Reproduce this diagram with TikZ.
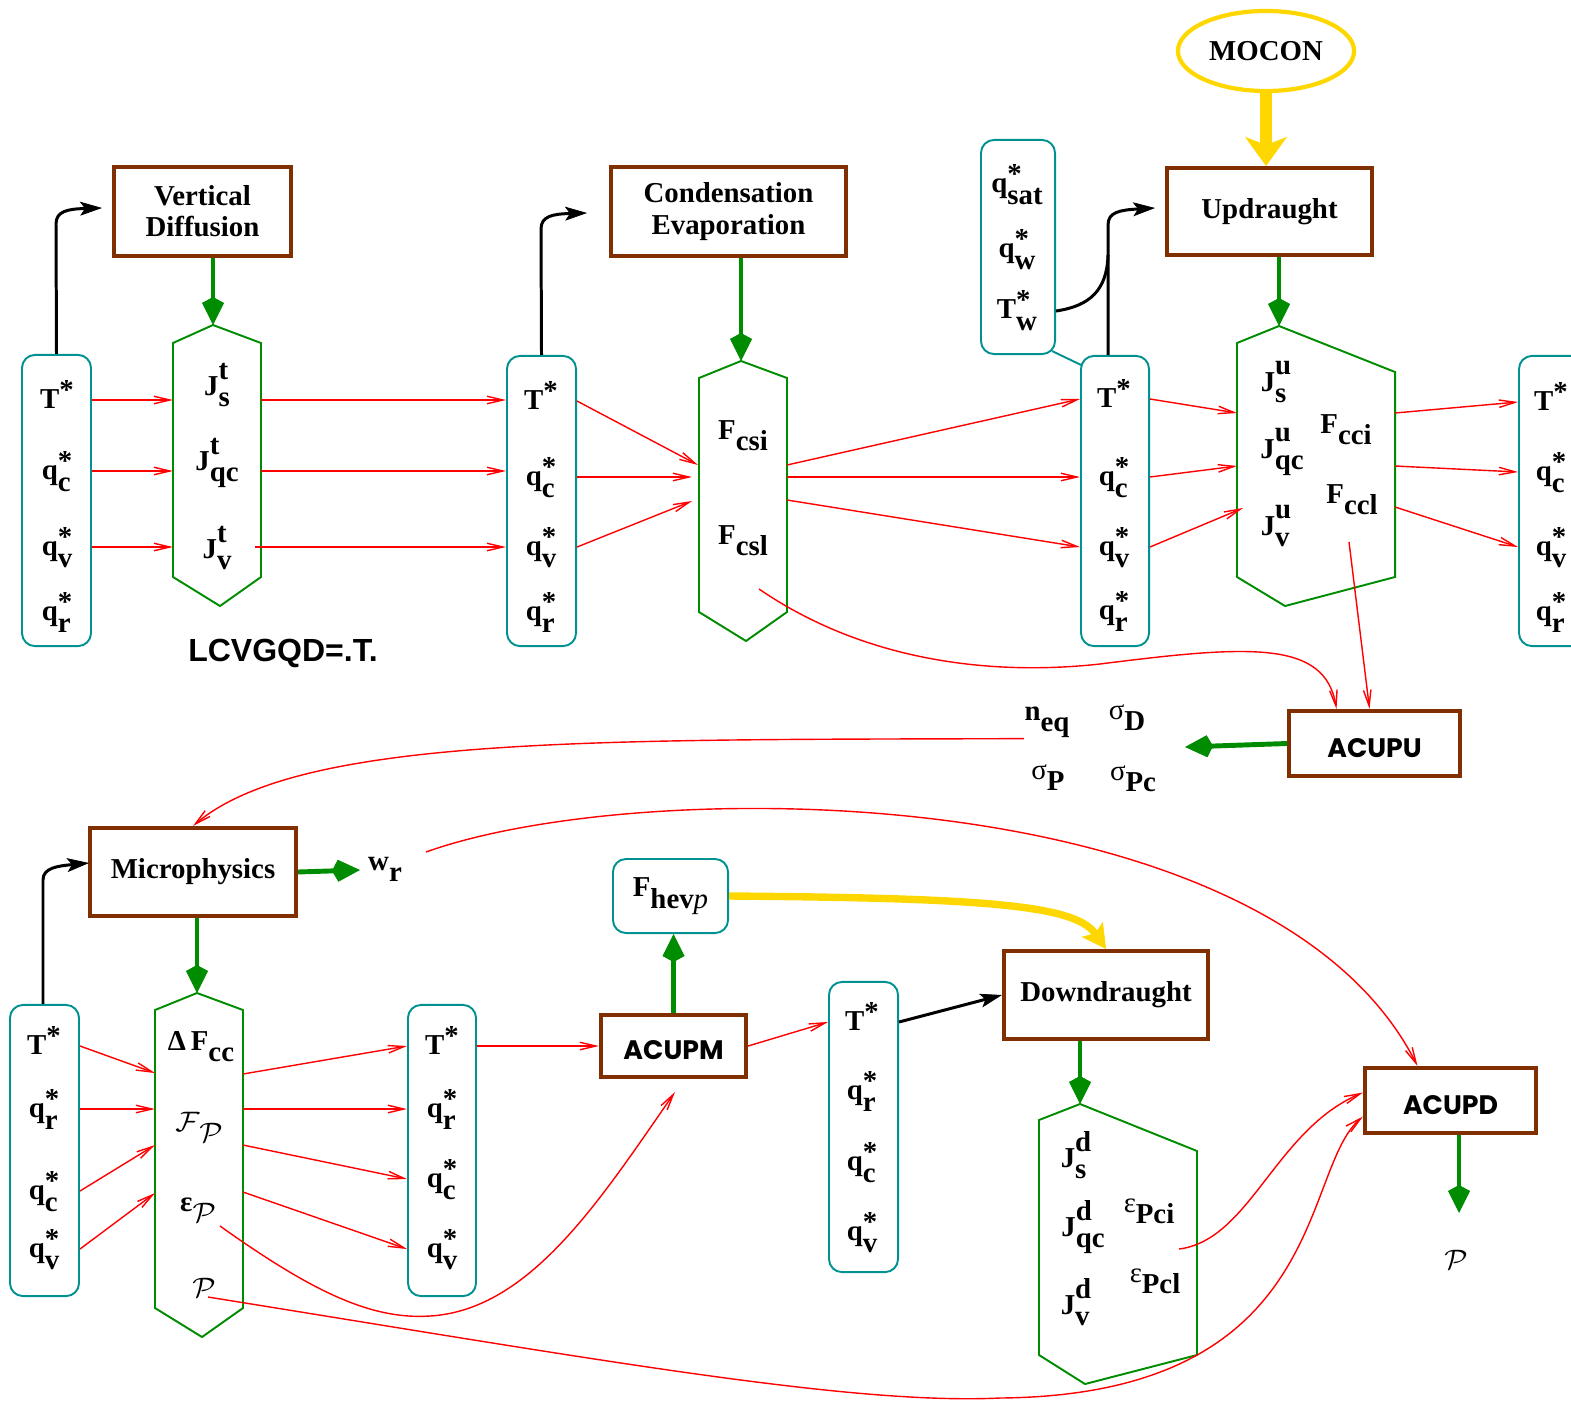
\documentclass[tikz,border=0pt]{standalone}
\usepackage{fontspec}
\setmainfont{Liberation Serif}
\newfontfamily\acufont{Poppins}
\newfontfamily\lcvfont{Liberation Sans}
\usepackage{tikz}
\usetikzlibrary{arrows.meta,shapes.geometric}

\definecolor{boxbrown}{RGB}{128,48,0}
\definecolor{varteal}{RGB}{0,145,145}
\definecolor{fluxgreen}{RGB}{0,140,0}
\definecolor{mocongold}{RGB}{255,215,0}

% symbol with a superscript and a subscript of the same size
\newcommand{\fieldsym}[3]{#1{\ooalign{\raisebox{0.3em}{#2}\cr\raisebox{-0.42em}{#3}\cr}}}
\newcommand{\fluxsym}[3]{#1{\ooalign{\raisebox{0.58em}{#2}\cr\raisebox{-0.38em}{#3}\cr}}}

\begin{document}
\begin{tikzpicture}[x=0.01cm,y=-0.01cm,
	font=\fontsize{8.2}{8.9}\selectfont\bfseries,
	proc/.style={draw=boxbrown, line width=1.15pt, rectangle, inner sep=0pt, align=center},
	acu/.style={proc, text height=0.27cm, text depth=0cm, font=\acufont\fontsize{7.6}{9}\selectfont\bfseries},
	var/.style={draw=varteal, line width=0.55pt, rounded corners=0.13cm, inner sep=0pt},
	lab/.style={inner sep=0pt, text height=0.2cm, text depth=0.04cm},
	sym/.style={inner sep=0pt},
	hexa/.style={draw=fluxgreen, line width=0.55pt},
	flow/.style={red, line width=0.4pt, -{Straight Barb[length=0.16cm,width=0.075cm]}},
	feed/.style={black, line width=0.85pt, -{Stealth[length=0.22cm,width=0.14cm,inset=0.05cm,line width=0.2pt]}},
	gflow/.style={fluxgreen, line width=1.4pt, -{Kite[length=0.28cm,width=0.22cm,inset=0.06cm,line width=0.2pt]}}]
	\useasboundingbox (0,0) rectangle (1571,1400);

	% Hexagon points
	\coordinate (h1t) at (213,325); \coordinate (h1ur) at (261,343); \coordinate (h1lr) at (261,577);
	\coordinate (h1b) at (220,606); \coordinate (h1ll) at (173,577); \coordinate (h1ul) at (173,343);
	\coordinate (h2t) at (741,361); \coordinate (h2ur) at (787,378); \coordinate (h2lr) at (787,612);
	\coordinate (h2b) at (746,641); \coordinate (h2ll) at (699,612); \coordinate (h2ul) at (699,378);
	\coordinate (h3t) at (1279,326); \coordinate (h3ur) at (1395,372); \coordinate (h3lr) at (1395,577);
	\coordinate (h3b) at (1285,606); \coordinate (h3ll) at (1237,577); \coordinate (h3ul) at (1237,343);
	\coordinate (h4t) at (197,993); \coordinate (h4ur) at (243,1010); \coordinate (h4lr) at (243,1308);
	\coordinate (h4b) at (202,1337); \coordinate (h4ll) at (155,1308); \coordinate (h4ul) at (155,1010);
	\coordinate (h5t) at (1080,1104); \coordinate (h5ur) at (1197,1151); \coordinate (h5lr) at (1197,1355);
	\coordinate (h5b) at (1085,1384); \coordinate (h5ll) at (1039,1355); \coordinate (h5ul) at (1039,1120);

	% Ports
	\coordinate (h1w1) at (173,400); \coordinate (h1w2) at (173,471); \coordinate (h1w3) at (173,547);
	\coordinate (h1e1) at (261,400); \coordinate (h1e2) at (261,471); \coordinate (h1e3) at (255,547);
	\coordinate (h2w1) at (698,465); \coordinate (h2w2) at (692,477); \coordinate (h2w3) at (692,501);
	\coordinate (h2e1) at (787,465); \coordinate (h2e2) at (787,477); \coordinate (h2e3) at (787,500);
	\coordinate (h2s) at (759,589);
	\coordinate (h3w1) at (1237,413); \coordinate (h3w2) at (1237,466); \coordinate (h3w3) at (1243,508);
	\coordinate (h3e1) at (1395,413); \coordinate (h3e2) at (1395,466); \coordinate (h3e3) at (1395,507);
	\coordinate (h3s) at (1349,542);
	\coordinate (h4w1) at (155,1073); \coordinate (h4w2) at (155,1109); \coordinate (h4w3) at (155,1145); \coordinate (h4w4) at (155,1193);
	\coordinate (h4e1) at (243,1074); \coordinate (h4e2) at (243,1109); \coordinate (h4e3) at (243,1145); \coordinate (h4e4) at (243,1192);
	\coordinate (h4eps) at (220,1226);
	\coordinate (h4p) at (208,1297);
	\coordinate (h5eps) at (1179,1249);
	\coordinate (vdin) at (102,208);
	\coordinate (cein) at (587,213);
	\coordinate (upin) at (1155,208);
	\coordinate (micin) at (89,863);
	\coordinate (sigtip) at (1185,747);
	\coordinate (wrtip) at (360,870);
	\coordinate (wrout) at (426,852);
	\coordinate (acupmin) at (675,1092);
	\coordinate (ptip) at (1459,1213);

	% Boxes
	\node[proc, minimum width=1.77cm, minimum height=0.89cm] (vd) at (202.5,211.5) {Vertical\\Diffusion};
	\node[proc, minimum width=2.35cm, minimum height=0.89cm] (ce) at (728.5,211.5) {Condensation\\Evaporation};
	\node[proc, minimum width=2.05cm, minimum height=0.87cm] (up) at (1269.5,211.5) {Updraught};
	\node[acu, minimum width=1.71cm, minimum height=0.65cm] (acupu) at (1374.5,743.5) {ACUPU};
	\node[proc, minimum width=2.06cm, minimum height=0.88cm] (mic) at (193,872) {Microphysics};
	\node[acu, minimum width=1.45cm, minimum height=0.62cm] (acupm) at (673.5,1046) {ACUPM};
	\node[proc, minimum width=2.04cm, minimum height=0.88cm] (dd) at (1106,995) {Downdraught};
	\node[acu, minimum width=1.71cm, minimum height=0.65cm] (acupd) at (1450.5,1100.5) {ACUPD};
	\node[draw=mocongold, line width=1.2pt, ellipse, inner sep=0pt, minimum width=1.76cm, minimum height=0.8cm] (mocon) at (1266,51) {MOCON};

	\node[var, minimum width=0.69cm, minimum height=2.91cm] (b1) at (56.5,500.5) {};
	\node[var, minimum width=0.69cm, minimum height=2.90cm] (b2) at (541.5,501) {};
	\node[var, minimum width=0.68cm, minimum height=2.90cm] (b3) at (1115,501) {};
	\node[var, minimum width=0.68cm, minimum height=2.90cm] (b4) at (1553,501) {};
	\node[var, minimum width=0.74cm, minimum height=2.14cm] (bs) at (1018,247) {};
	\node[var, minimum width=0.69cm, minimum height=2.91cm] (b5) at (44.5,1150.5) {};
	\node[var, minimum width=0.68cm, minimum height=2.91cm] (b6) at (442,1150.5) {};
	\node[var, minimum width=0.69cm, minimum height=2.90cm] (b7) at (863.5,1127) {};
	\node[var, minimum width=1.15cm, minimum height=0.74cm] (bf) at (670.5,896) {\fieldsym{F}{}{hev{\mdseries\itshape p}}};

	% Hexagons
	\foreach \h in {h1,h2,h3,h4,h5}
		\draw[hexa] (\h t) -- (\h ur) -- (\h lr) -- (\h b) -- (\h ll) -- (\h ul) -- cycle;

	% Column entries
	\foreach \col/\x/\ya/\yb/\yc/\yd in {b1/57/400/471/547/612, b2/541/401/477/547/612, b3/1114/399/477/547/611, b4/1551/402/472/547/612} {
		\node[lab] (\col T) at (\x,\ya) {\fieldsym{T}{*}{}};
		\node[lab] (\col c) at (\x,\yb) {\fieldsym{q}{*}{c}};
		\node[lab] (\col v) at (\x,\yc) {\fieldsym{q}{*}{v}};
		\node[lab] (\col r) at (\x,\yd) {\fieldsym{q}{*}{r}};
	}
	\foreach \col/\x/\ya/\yb/\yc/\yd in {b5/44/1046/1109/1191/1249, b6/442/1046/1109/1179/1249, b7/862/1022/1091/1162/1232} {
		\node[lab] (\col T) at (\x,\ya) {\fieldsym{T}{*}{}};
		\node[lab] (\col r) at (\x,\yb) {\fieldsym{q}{*}{r}};
		\node[lab] (\col c) at (\x,\yc) {\fieldsym{q}{*}{c}};
		\node[lab] (\col v) at (\x,\yd) {\fieldsym{q}{*}{v}};
	}
	\node[sym] (bsat) at (1017,185) {\fieldsym{q}{*}{sat}};
	\node[sym] (bsw) at (1017,250) {\fieldsym{q}{*}{w}};
	\node[sym] (bsTw) at (1017,311) {\fieldsym{T}{*}{w}};

	% Hexagon entries
	\node[sym] (jts) at (217,385) {\fluxsym{J}{t}{s}};
	\node[sym] (jtqc) at (217,463) {\fluxsym{J}{t}{qc}};
	\node[sym] (jtv) at (217,548) {\fluxsym{J}{t}{v}};
	\node[sym] (fcsi) at (743,436) {\fluxsym{F}{}{csi}};
	\node[sym] (fcsl) at (743,541) {\fluxsym{F}{}{csl}};
	\node[sym] (jus) at (1276,382) {\fluxsym{J}{u}{s}};
	\node[sym] (juqc) at (1282,452) {\fluxsym{J}{u}{qc}};
	\node[sym] (juv) at (1276,526) {\fluxsym{J}{u}{v}};
	\node[sym] (fcci) at (1346,430) {\fluxsym{F}{}{cci}};
	\node[sym] (fccl) at (1352,500) {\fluxsym{F}{}{ccl}};
	\node[sym] (dfcc) at (201,1047) {\fluxsym{Δ\,F}{}{cc}};
	\node[sym] (ffp) at (199,1127) {\mdseries\fluxsym{$\mathcal{F}$}{}{$\mathcal{P}$}};
	\node[sym] (epsp) at (198,1209) {\fluxsym{ε}{}{\mdseries$\mathcal{P}$}};
	\node[sym] (pp) at (204,1288) {$\mathcal{P}$};
	\node[sym] (jds) at (1076,1155) {\fluxsym{J}{d}{s}};
	\node[sym] (jdqc) at (1083,1227) {\fluxsym{J}{d}{qc}};
	\node[sym] (jdv) at (1076,1302) {\fluxsym{J}{d}{v}};
	\node[sym] (epci) at (1149,1210) {\fluxsym{{\mdseries ε}}{}{Pci}};
	\node[sym] (epcl) at (1155,1280) {\fluxsym{{\mdseries ε}}{}{Pcl}};

	% Other tags
	\node[sym] (neq) at (1047,721) {\fluxsym{n}{}{eq}};
	\node[sym] (sigD) at (1127,717) {\fluxsym{{\mdseries σ}}{}{D}};
	\node[sym] (sigP) at (1048,777) {\fluxsym{{\mdseries σ}}{}{P}};
	\node[sym] (sigPc) at (1133,778) {\fluxsym{{\mdseries σ}}{}{Pc}};
	\node[sym] (wr) at (385,868) {\fluxsym{w}{}{r}};
	\node[sym] (pout) at (1456,1260) {$\mathcal{P}$};
	\node[sym, font=\lcvfont\fontsize{9.1}{10}\selectfont\bfseries] (lcv) at (283,653) {LCVGQD=.T.};

	% Green and yellow arrows
	\draw[gflow] (h1t |- vd.south) -- (h1t);
	\draw[gflow] (h2t |- ce.south) -- (h2t);
	\draw[gflow] (h3t |- up.south) -- (h3t);
	\draw[gflow] (acupu.west) -- (sigtip);
	\draw[gflow] (mic.east) -- (wrtip);
	\draw[gflow] (h4t |- mic.south) -- (h4t);
	\draw[gflow] (acupm.north) -- (acupm.north |- bf.south);
	\draw[gflow] (h5t |- dd.south) -- (h5t);
	\draw[gflow] (ptip |- acupd.south) -- (ptip);
	\draw[mocongold, line width=3.4pt, -{Stealth[length=0.29cm,width=0.42cm,inset=0.08cm,line width=0.2pt]}] (mocon.south) -- (mocon.south |- up.north);
	\draw[mocongold, line width=2.1pt, -{Stealth[length=0.24cm,width=0.26cm,inset=0.05cm,line width=0.2pt]}] (bf.east) .. controls (985,898) and (1075,905) .. (dd.north);

	% Black arrows
	\draw[feed] (b1.north) -- (56,224) .. controls (56,211) and (68,209) .. (vdin);
	\draw[feed] (b2.north) -- (541,229) .. controls (541,216) and (553,214) .. (cein);
	\draw[feed] ([xshift=-0.07cm]b3.north) -- (1108,225) .. controls (1108,212) and (1120,210) .. (upin);
	\draw[black, line width=0.85pt] (bs.east |- bsTw) .. controls (1090,306) and (1107,290) .. (1108,255);
	\draw[feed] ([xshift=-0.015cm]b5.north) -- (43,880) .. controls (43,868) and (57,866) .. (micin);
	\draw[feed] (b7.east |- b7T) -- (dd.west);
	\draw[varteal, line width=0.55pt] ([shift={(-0.04cm,0.04cm)}]bs.south east) -- ([shift={(0.01cm,-0.1cm)}]b3.north west);

	% Red flows, top row
	\foreach \i in {1,2,3} {
		\draw[flow] (b1.east |- h1w\i) -- (h1w\i);
		\draw[flow] (h1e\i) -- (b2.west |- h1e\i);
	}
	\draw[flow] (b2.east |- b2T) -- (h2w1);
	\draw[flow] (b2.east |- h2w2) -- (h2w2);
	\draw[flow] (b2.east |- b2v) -- (h2w3);
	\draw[flow] (h2e1) -- (b3.west |- b3T);
	\draw[flow] (h2e2) -- (b3.west |- h2e2);
	\draw[flow] (h2e3) -- (b3.west |- b3v);
	\foreach \r/\i in {T/1,c/2,v/3} {
		\draw[flow] (b3.east |- b3\r) -- (h3w\i);
		\draw[flow] (h3e\i) -- (b4.west |- b4\r);
	}
	\draw[flow] (h2s) .. controls (870,665) and (1000,675) .. (1100,664) .. controls (1250,645) and (1325,640) .. ([xshift=-0.38cm]acupu.north);
	\draw[flow] (h3s) -- ([xshift=-0.05cm]acupu.north);
	\draw[flow] (neq.south west) .. controls (600,740) and (300,735) .. (mic.north);
	\draw[flow] (wrout) .. controls (640,775) and (1270,775) .. ([xshift=-0.33cm]acupd.north);

	% Red flows, bottom row
	\foreach \r/\i in {T/1,r/2,c/3,v/4} {
		\draw[flow] (b5.east |- b5\r) -- (h4w\i);
		\draw[flow] (h4e\i) -- (b6.west |- b6\r);
	}
	\draw[flow] (b6.east |- b6T) -- (acupm.west |- b6T);
	\draw[flow] (acupm.east) -- (b7.west |- b7T);
	\draw[flow] (h4eps) .. controls (310,1290) and (370,1320) .. (430,1316) .. controls (530,1310) and (600,1200) .. (acupmin);
	\draw[flow] (h5eps) .. controls (1250,1240) and (1275,1130) .. ([yshift=0.08cm]acupd.west);
	\draw[flow] (h4p) .. controls (600,1360) and (850,1405) .. (1000,1398) .. controls (1330,1395) and (1300,1170) .. ([yshift=-0.16cm]acupd.west);
\end{tikzpicture}
\end{document}
